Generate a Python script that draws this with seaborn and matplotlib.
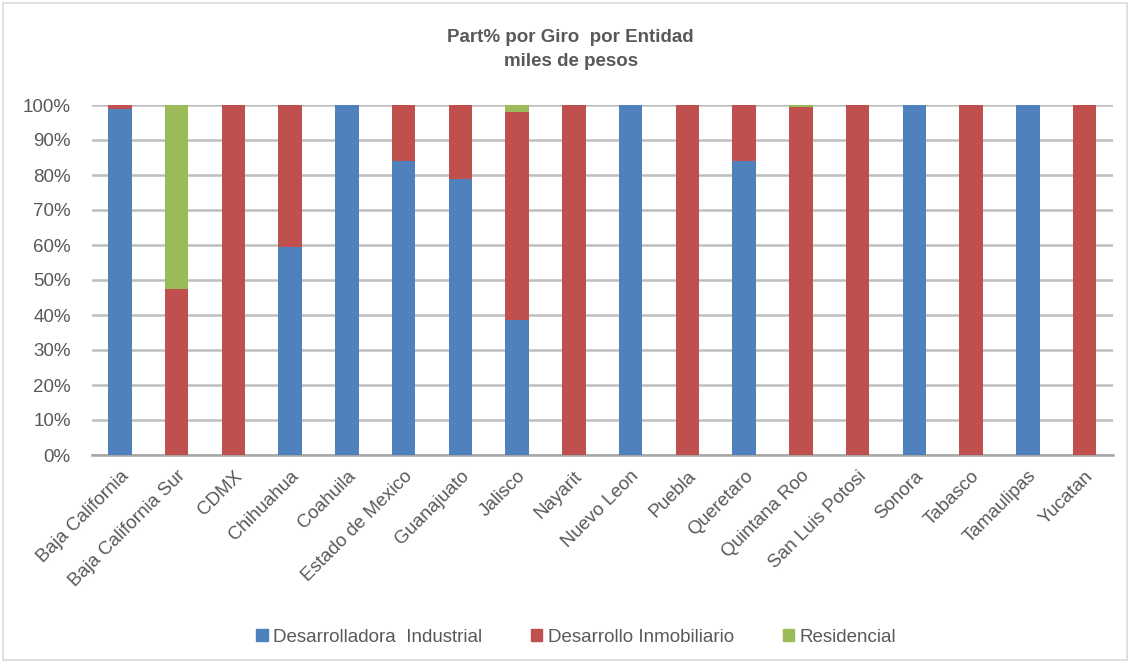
import matplotlib
matplotlib.use("Agg")
import matplotlib.pyplot as plt
import seaborn as sns
import pandas as pd
import numpy as np
from matplotlib.patches import Rectangle

entidades = ["Baja California", "Baja California Sur", "CDMX", "Chihuahua", "Coahuila",
             "Estado de Mexico", "Guanajuato", "Jalisco", "Nayarit", "Nuevo Leon", "Puebla",
             "Queretaro", "Quintana Roo", "San Luis Potosi", "Sonora", "Tabasco",
             "Tamaulipas", "Yucatan"]
industrial = [99.0, 0.0, 0.0, 59.5, 100.0, 84.0, 79.0, 38.5, 0.0, 100.0, 0.0, 84.0, 0.0, 0.0, 100.0, 0.0, 100.0, 0.0]
inmobiliario = [1.0, 47.5, 100.0, 40.5, 0.0, 16.0, 21.0, 59.5, 100.0, 0.0, 100.0, 16.0, 99.3, 100.0, 0.0, 100.0, 0.0, 100.0]
residencial = [0.0, 52.5, 0.0, 0.0, 0.0, 0.0, 0.0, 2.0, 0.0, 0.0, 0.0, 0.0, 0.7, 0.0, 0.0, 0.0, 0.0, 0.0]
series = ["Desarrolladora  Industrial", "Desarrollo Inmobiliario", "Residencial"]
colores = ["#4F81BD", "#C0504D", "#9BBB59"]

sns.set_theme(style="white")
plt.rcParams["font.family"] = ["Liberation Sans Narrow", "Liberation Sans", "DejaVu Sans"]

df = pd.DataFrame({"Entidad": entidades, "ind": industrial, "inm": inmobiliario, "res": residencial})
df["c1"] = df["ind"]
df["c2"] = df["ind"] + df["inm"]
df["c3"] = df["c2"] + df["res"]

fig = plt.figure(figsize=(11.3, 6.63), dpi=100)
ax = fig.add_axes([91.5 / 1130, 1 - 455 / 663, (1113 - 91.5) / 1130, 350 / 663])

for col, color in zip(["c3", "c2", "c1"], colores[::-1]):
    sns.barplot(data=df, x="Entidad", y=col, color=color, width=0.41, ax=ax,
                saturation=1, edgecolor="none", linewidth=0, zorder=3)

ax.set_ylim(0, 100)
ax.set_xlim(-0.5, len(entidades) - 0.5)
ax.set_yticks(np.arange(0, 101, 10))
ax.set_yticklabels([f"{v}%" for v in range(0, 101, 10)])
ax.yaxis.grid(True, color="#BFBFBF", linewidth=1.8, zorder=0)
ax.set_axisbelow(True)
for s in ["top", "right", "left"]:
    ax.spines[s].set_visible(False)
ax.spines["bottom"].set_color("#A6A6A6")
ax.spines["bottom"].set_linewidth(1.8)
ax.set_xlabel("")
ax.set_ylabel("")
ax.tick_params(axis="y", labelsize=13.5, colors="#595959", length=0, pad=15)
ax.tick_params(axis="x", labelsize=13.5, colors="#595959", length=0, pad=9)
plt.setp(ax.get_xticklabels(), rotation=45, ha="right", rotation_mode="anchor")

fig.text(0.505, 1 - 38 / 663, "Part% por Giro  por Entidad", ha="center", va="center",
         fontsize=13.5, fontweight="bold", color="#595959")
fig.text(0.505, 1 - 62 / 663, "miles de pesos", ha="center", va="center",
         fontsize=13.5, fontweight="bold", color="#595959")

handles = [Rectangle((0, 0), 1, 1, color=c) for c in colores]
fig.legend(handles, series, loc="center", bbox_to_anchor=(0.51, 1 - 637 / 663), ncol=3,
           frameon=False, fontsize=13.5, handlelength=0.6, handleheight=0.6,
           handletextpad=0.3, columnspacing=2.6, labelcolor="#595959")

fig.patches.append(Rectangle((3 / 1130, 3 / 663), 1 - 6 / 1130, 1 - 6 / 663, transform=fig.transFigure,
                             fill=False, edgecolor="#D9D9D9", linewidth=1.2))

fig.savefig("out.png", dpi=100)
